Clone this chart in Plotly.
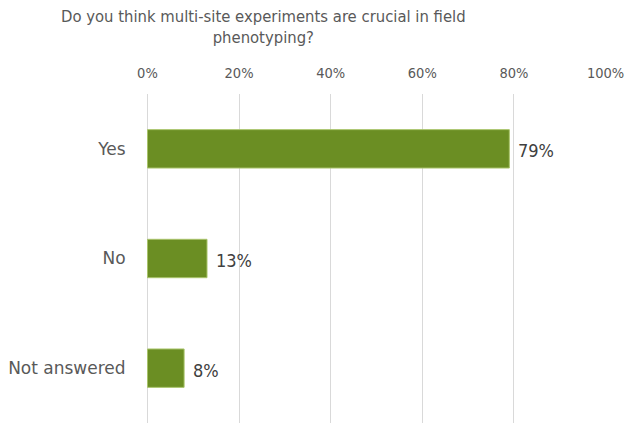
import plotly.graph_objects as go

categories = ["Yes", "No", "Not answered"]
values = [0.79, 0.13, 0.08]
labels = ["79%", "13%", "8%"]
tick_vals = [0, 0.2, 0.4, 0.6, 0.8, 1.0]
tick_text = ["0%", "20%", "40%", "60%", "80%", "100%"]
title_text = "Do you think multi-site experiments are crucial in field<br>phenotyping?"

font_family = "DejaVu Sans Condensed, DejaVu Sans, sans-serif"
font_regular = "DejaVu Sans, sans-serif"

fig = go.Figure(go.Bar(
    y=categories, x=values, orientation="h",
    marker=dict(color="#6b8e23", line=dict(color="#a9c46b", width=1)),
    width=0.35,
    cliponaxis=False,
))

for c, v, t in zip(categories, values, labels):
    fig.add_annotation(
        x=v, y=c, xref="x", yref="y", text=t, showarrow=False,
        xanchor="left", yanchor="middle", xshift=7, yshift=-2,
        font=dict(size=18, color="#404040", family=font_family),
    )

fig.add_annotation(
    text=title_text, x=0.253, xref="paper", xanchor="center",
    y=1.27, yref="paper", yanchor="top", showarrow=False,
    font=dict(size=16.5, color="#595959", family=font_family),
)

fig.update_layout(
    width=627, height=423,
    margin=dict(l=147, r=21, t=94, b=0),
    paper_bgcolor="white", plot_bgcolor="white",
    showlegend=False,
    xaxis=dict(
        side="top", range=[-0.001, 1.001], tickvals=tick_vals, ticktext=tick_text,
        showgrid=True, gridcolor="#d9d9d9", gridwidth=1,
        zeroline=True, zerolinecolor="#d9d9d9", zerolinewidth=1, showline=False,
        ticks="outside", ticklen=9, tickcolor="rgba(0,0,0,0)",
        tickfont=dict(size=14.5, color="#595959", family=font_family),
    ),
    yaxis=dict(
        autorange="reversed", showgrid=False, zeroline=False, showline=False,
        ticks="outside", ticklen=17, tickcolor="rgba(0,0,0,0)",
        tickfont=dict(size=17, color="#595959", family=font_regular),
    ),
)

fig.write_html("out.html")
